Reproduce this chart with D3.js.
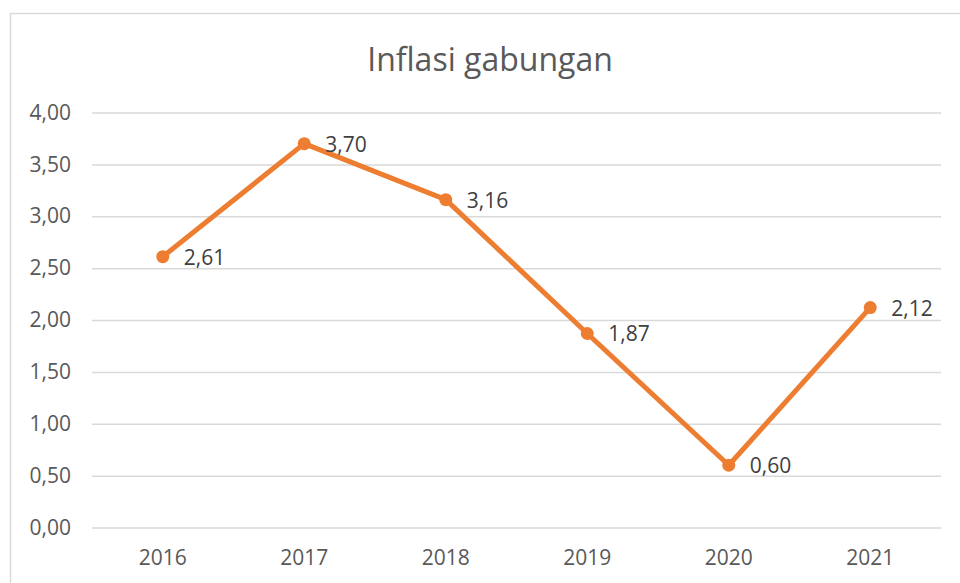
<!DOCTYPE html>
<html>
<head>
<meta charset="utf-8">
<script src="https://cdn.jsdelivr.net/npm/d3@7"></script>
<style>
  body { margin: 0; background: #fff; }
  svg { display: block; font-family: "Open Sans", "Noto Sans", sans-serif; }
</style>
</head>
<body>
<svg id="chart" width="960" height="583"></svg>
<script>
const years = ['2016', '2017', '2018', '2019', '2020', '2021'];
const inflasi = [2.61, 3.70, 3.16, 1.87, 0.60, 2.12];
const yTicks = [0, 0.5, 1, 1.5, 2, 2.5, 3, 3.5, 4];

const svg = d3.select('#chart');
const margin = { top: 112.5, right: 19, bottom: 55.5, left: 92 };
const width = +svg.attr('width');
const height = +svg.attr('height');
const innerWidth = width - margin.left - margin.right;
const innerHeight = height - margin.top - margin.bottom;

// fmt with comma as decimal separator
const fmt = v => d3.format('.2f')(v).replace('.', ',');

// chart border, only top and left edges are visible in the screenshot
svg.append('path')
  .attr('d', 'M10.5,583 V13.5 H960')
  .attr('fill', 'none')
  .attr('stroke', '#d9d9d9')
  .attr('stroke-width', 1.5);

svg.append('text')
  .attr('x', 490).attr('y', 71)
  .attr('text-anchor', 'middle')
  .attr('fill', '#595959')
  .attr('font-size', 32)
  .text('Inflasi gabungan');

const xScale = d3.scaleBand()
  .domain(years)
  .range([0, innerWidth]);

const yScale = d3.scaleLinear()
  .domain([0, 4])
  .range([innerHeight, 0]);

const g = svg.append('g')
  .attr('transform', `translate(${margin.left},${margin.top})`);

const yAxis = d3.axisLeft(yScale)
  .tickValues(yTicks)
  .tickFormat(fmt)
  .tickSize(-innerWidth)
  .tickPadding(21);

const yAxisG = g.append('g').attr('class', 'y-axis').call(yAxis);
yAxisG.select('.domain').remove();
yAxisG.selectAll('line').attr('stroke', '#d9d9d9').attr('stroke-width', 1.5);
yAxisG.selectAll('text')
  .attr('fill', '#595959')
  .attr('font-size', 21)
  .attr('font-family', '"Open Sans", sans-serif');

const xAxis = d3.axisBottom(xScale).tickSize(0).tickPadding(23);
const xAxisG = g.append('g')
  .attr('class', 'x-axis')
  .attr('transform', `translate(0,${innerHeight})`)
  .call(xAxis);
xAxisG.select('.domain').remove();
xAxisG.selectAll('text')
  .attr('fill', '#595959')
  .attr('font-size', 21)
  .attr('font-family', '"Open Sans", sans-serif');

const xc = d => xScale(d) + xScale.bandwidth() / 2;
const points = years.map((yr, i) => ({ year: yr, value: inflasi[i] }));

const line = d3.line()
  .x(d => xc(d.year))
  .y(d => yScale(d.value));

g.append('path')
  .datum(points)
  .attr('fill', 'none')
  .attr('stroke', '#ed7d31')
  .attr('stroke-width', 5)
  .attr('stroke-linejoin', 'round')
  .attr('d', line);

g.selectAll('circle')
  .data(points)
  .enter().append('circle')
    .attr('cx', d => xc(d.year))
    .attr('cy', d => yScale(d.value))
    .attr('r', 6.5)
    .attr('fill', '#ed7d31');

// data labels sit right of each point
g.selectAll('.data-label')
  .data(points)
  .enter().append('text')
    .attr('class', 'data-label')
    .attr('x', d => xc(d.year) + 21)
    .attr('y', d => yScale(d.value) + 8)
    .attr('fill', '#404040')
    .attr('font-size', 21)
    .text(d => fmt(d.value));
</script>
</body>
</html>
